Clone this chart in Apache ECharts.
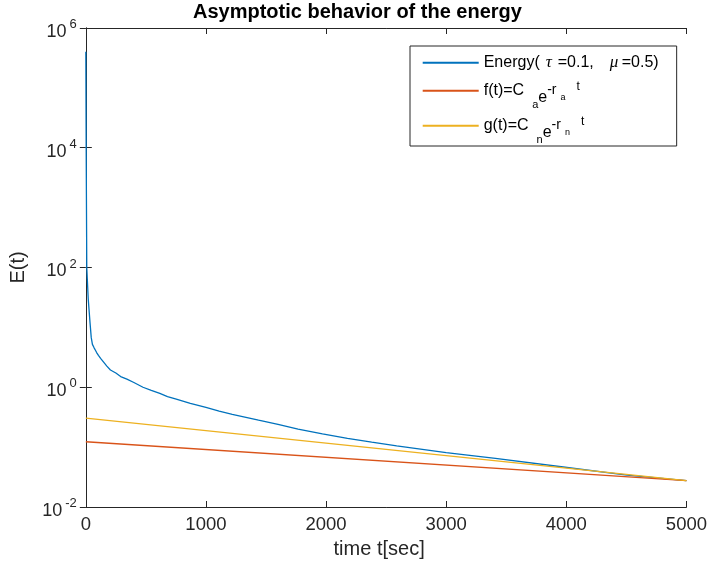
<!DOCTYPE html>
<html><head><meta charset="utf-8">
<script src="https://cdn.jsdelivr.net/npm/echarts@6/dist/echarts.min.js"></script>
<style>html,body{margin:0;padding:0;background:#fff}#c{width:710px;height:568px}</style>
</head><body><div id="c"></div>
<script>
// time values (sec) of the energy curve
const tEnergy = [0, 3, 8, 20, 35, 45, 55, 68, 80, 90, 105, 123, 150, 175, 205, 250, 290, 342, 400, 476, 545, 616, 680, 753, 870, 1000, 1110, 1219, 1438, 1600, 1767, 1970, 2178, 2380, 2588, 3000, 3410, 3958, 4506, 5000];
const energy  = [4e5, 1e4, 100, 30, 12, 6.8, 5.2, 4.6, 4.15, 3.8, 3.4, 3.04, 2.6, 2.25, 1.94, 1.73, 1.51, 1.37, 1.2, 1.0, 0.89, 0.79, 0.7, 0.635, 0.54, 0.46, 0.4, 0.353, 0.282, 0.24, 0.2, 0.167, 0.14, 0.121, 0.105, 0.081, 0.065, 0.047, 0.034, 0.0275];
// exponential fits (straight lines on log axis)
const tFit = [0, 5000];
const fVals = [0.123, 0.0275];
const gVals = [0.306, 0.0275];
const xTicks = [0, 1000, 2000, 3000, 4000, 5000];
const yExponents = [-2, 0, 2, 4, 6];

const F = 'Liberation Sans, Arial, Helvetica, sans-serif';
const AX = '#262626';
const pairs = (xs, ys) => xs.map((x, i) => [x, ys[i]]);

const chart = echarts.init(document.getElementById('c'), null, {renderer: 'canvas'});
const legendText = {
  'Energy': '{r1|Energy(}{w6| }{gi|τ}{r1|=0.1,}{w16| }{gi|μ}{r1|=0.5)}',
  'f': '{m|f(t)=C}{g8| }{sb|a}{ee|e}{su|-r}{g3| }{ss|a}{g9| }{st|t}',
  'g': '{m|g(t)=C}{g8| }{sb|n}{ee|e}{su|-r}{g3| }{ss|n}{g9| }{st|t}'
};
const option = {
  animation: false,
  backgroundColor: '#fff',
  title: {
    text: 'Asymptotic behavior of the energy',
    left: 193, top: 2, padding: 0,
    textStyle: {fontFamily: F, fontSize: 20, fontWeight: 'bold', color: '#000'}
  },
  grid: {left: 85, right: 17, top: 28, bottom: 61, containLabel: false},
  legend: {
    orient: 'vertical', left: 410, top: 46,
    padding: [3.5, 18, 0.1, 11.7], itemGap: -5.4,
    itemWidth: 56, itemHeight: 14,
    borderColor: AX, borderWidth: 1, backgroundColor: '#fff',
    itemStyle: {color: 'rgba(0,0,0,0)', borderColor: 'rgba(0,0,0,0)', borderWidth: 0},
    data: ['Energy', 'f', 'g'],
    formatter: n => legendText[n],
    textStyle: {
      fontFamily: F, fontSize: 16, color: '#000', backgroundColor: 'rgba(255,255,255,0)',
      rich: {
        r1: {fontFamily: F, fontSize: 16, lineHeight: 26.4, color: '#000'},
        gi: {fontFamily: 'Liberation Serif, DejaVu Serif, serif', fontStyle: 'italic', fontSize: 17, lineHeight: 18, width: 12, color: '#000'},
        w6: {width: 6, lineHeight: 2},
        w16: {width: 16, lineHeight: 2},
        m: {fontFamily: F, fontSize: 16, lineHeight: 40.4, color: '#000'},
        g8: {width: 8, lineHeight: 2},
        sb: {fontFamily: F, fontSize: 11, height: 11, lineHeight: 2, verticalAlign: 'bottom', color: '#000'},
        ee: {fontFamily: F, fontSize: 16, height: 27, lineHeight: 2, verticalAlign: 'bottom', color: '#000'},
        su: {fontFamily: F, fontSize: 14, height: 38.4, lineHeight: 2, verticalAlign: 'top', color: '#000'},
        g3: {width: 4, lineHeight: 2},
        ss: {fontFamily: F, fontSize: 9, height: 25.8, lineHeight: 2, verticalAlign: 'bottom', color: '#000'},
        g9: {width: 11, lineHeight: 2},
        st: {fontFamily: F, fontSize: 12, height: 33, lineHeight: 2, verticalAlign: 'top', color: '#000'}
      }
    }
  },
  xAxis: [{
    type: 'value', min: 0, max: 5000, interval: 1000,
    axisLine: {lineStyle: {color: AX, width: 1}},
    axisTick: {inside: true, length: 6, lineStyle: {color: AX}},
    axisLabel: {fontFamily: F, fontSize: 18.5, color: AX, margin: 8,
      formatter: v => xTicks.includes(v) ? String(v) : ''},
    splitLine: {show: false},
    name: 'time t[sec]', nameLocation: 'middle', nameGap: 32,
    nameTextStyle: {fontFamily: F, fontSize: 20, color: AX, padding: [0, 14, 0, 0]}
  }, {
    type: 'value', min: 0, max: 5000, interval: 1000, position: 'top',
    axisLine: {show: true, lineStyle: {color: AX, width: 1}},
    axisTick: {show: true, inside: true, length: 6, lineStyle: {color: AX}},
    axisLabel: {show: false}, splitLine: {show: false}
  }],
  yAxis: [{
    type: 'log', logBase: 10, min: 0.01, max: 1e6, interval: 2,
    axisLine: {show: true, lineStyle: {color: AX, width: 1}},
    axisTick: {show: true, inside: true, length: 6, lineStyle: {color: AX}},
    minorTick: {show: false}, splitLine: {show: false},
    axisLabel: {
      margin: 9, color: AX,
      formatter: v => {
        const e = Math.round(Math.log10(v));
        return yExponents.includes(e) ? '{z| }{b|10}{s|' + e + '}' : '';
      },
      rich: {
        z: {width: 0.1, lineHeight: 26},
        b: {fontFamily: F, fontSize: 18, height: 18, lineHeight: 2, verticalAlign: 'bottom', color: AX},
        s: {fontFamily: F, fontSize: 13, height: 19, lineHeight: 2, verticalAlign: 'top', color: AX, padding: [0, 0, 0, 3]}
      }
    },
    name: 'E(t)', nameLocation: 'middle', nameGap: 57,
    nameTextStyle: {fontFamily: F, fontSize: 20, color: AX}
  }, {
    type: 'log', logBase: 10, min: 0.01, max: 1e6, interval: 2, position: 'right',
    axisLine: {show: true, lineStyle: {color: AX, width: 1}},
    axisTick: {show: true, inside: true, length: 6, lineStyle: {color: AX}},
    minorTick: {show: false}, splitLine: {show: false},
    axisLabel: {show: false}
  }],
  series: [{
    name: 'Energy', type: 'line', xAxisIndex: 0, yAxisIndex: 0,
    data: pairs(tEnergy, energy), symbol: 'none', showSymbol: false,
    lineStyle: {color: '#0072BD', width: 1.3}, itemStyle: {color: '#0072BD'}
  }, {
    name: 'f', type: 'line', xAxisIndex: 0, yAxisIndex: 0,
    data: pairs(tFit, fVals), symbol: 'none', showSymbol: false,
    lineStyle: {color: '#D95319', width: 1.3}, itemStyle: {color: '#D95319'}
  }, {
    name: 'g', type: 'line', xAxisIndex: 0, yAxisIndex: 0,
    data: pairs(tFit, gVals), symbol: 'none', showSymbol: false,
    lineStyle: {color: '#EDB120', width: 1.3}, itemStyle: {color: '#EDB120'}
  }]
};
chart.setOption(option);
</script></body></html>
